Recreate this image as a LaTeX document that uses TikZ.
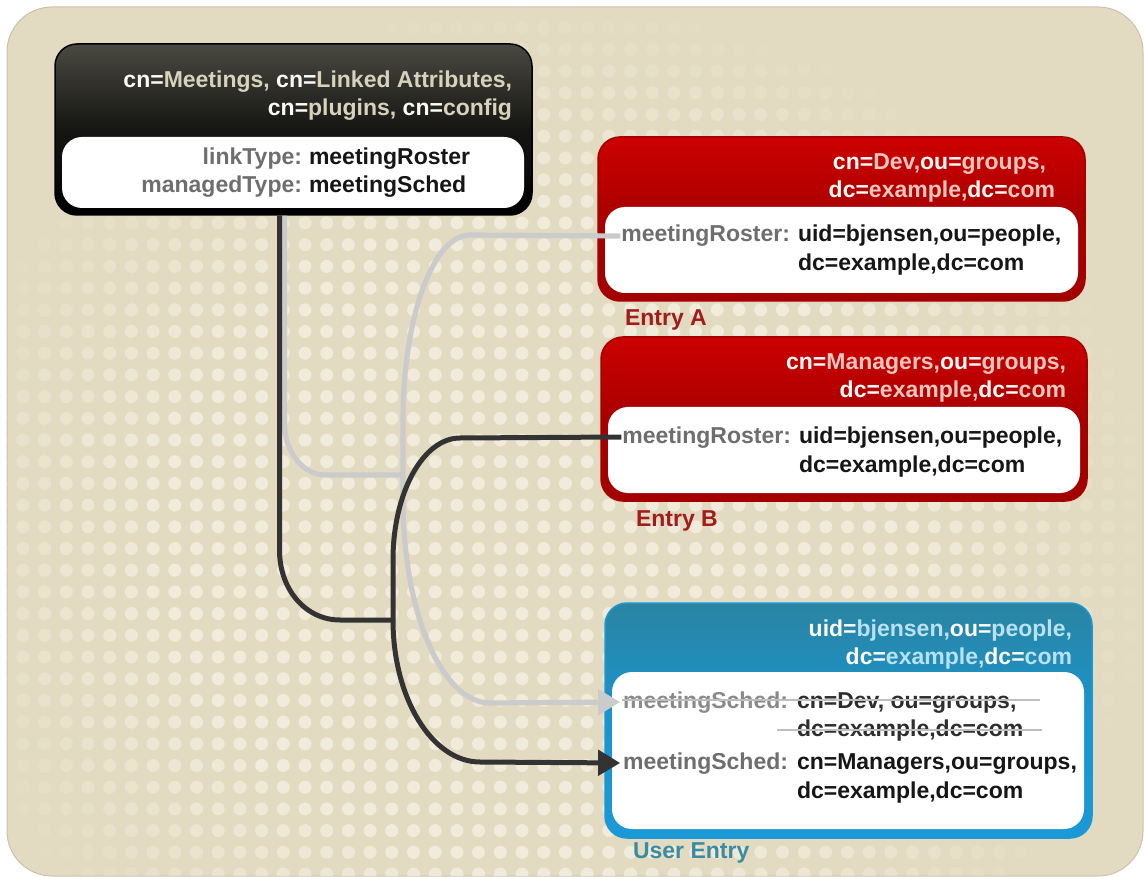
\documentclass[tikz,border=0pt]{standalone}
\usepackage{fontspec}
\setmainfont{Liberation Sans}
\usetikzlibrary{arrows.meta}
\definecolor{panelc}{HTML}{E3DBC1}
\definecolor{dotc}{HTML}{F0EBDA}
\definecolor{panelline}{HTML}{C9C2AC}
\definecolor{blktop}{HTML}{4A4941}
\definecolor{blkmid}{HTML}{151513}
\definecolor{redtop}{HTML}{CC0000}
\definecolor{redmid}{HTML}{A80000}
\definecolor{redbot}{HTML}{A30000}
\definecolor{bluetop}{HTML}{2A84A2}
\definecolor{bluemid}{HTML}{1A95CF}
\definecolor{bluebot}{HTML}{1B98D6}
\definecolor{keyw}{HTML}{FBFAF6}
\definecolor{valbeige}{HTML}{D8D2BC}
\definecolor{valpink}{HTML}{F5C6BE}
\definecolor{valblue}{HTML}{B8E2F2}
\definecolor{lblgray}{HTML}{6E6E6E}
\definecolor{oldgray}{HTML}{8A8A8A}
\definecolor{oldval}{HTML}{2E2E2E}
\definecolor{valblack}{HTML}{161616}
\definecolor{entryred}{HTML}{A31C1C}
\definecolor{entryblue}{HTML}{3A8CA3}
\definecolor{darkline}{HTML}{333333}
\definecolor{grayline}{HTML}{CBCBCB}
\definecolor{strikec}{HTML}{BEBEBE}
\newcommand\K[1]{\textcolor{keyw}{#1}}
\begin{document}
\begin{tikzpicture}[x=1pt,y=-1pt,
  txt/.style={inner sep=0pt, outer sep=0pt, text height=17pt, text depth=5pt,
              font=\fontsize{23}{28}\selectfont\bfseries},
  hdr/.style={txt, anchor=east},
  lbl/.style={txt, anchor=east, text=lblgray},
  val/.style={txt, anchor=west, text=valblack},
  ent/.style={txt, anchor=west},
  boxout/.style={rounded corners=22pt, inner sep=0pt, line width=1.5pt},
  boxin/.style={fill=white, rounded corners=20pt, inner sep=0pt},
  gline/.style={draw=grayline, line width=5.2pt},
  dline/.style={draw=darkline, line width=5pt},
  gtip/.style={-{Triangle[length=22pt,width=25pt]}, shorten >=3pt},
  strike/.style={draw=strikec, line width=2.8pt}
]
\useasboundingbox (0,0) rectangle (1144,877);
\fill[white] (0,0) rectangle (1144,877);
\fill[panelc, draw=panelline, line width=1pt, rounded corners=45pt] (7,7) rectangle (1143,876);

% dot pattern
\begin{scope}
\clip[rounded corners=45pt] (7,7) rectangle (1143,876);
\foreach \i in {0,...,52}{
  \foreach \j in {0,...,40}{
    \pgfmathsetmacro\px{1.2+21.7*\i}
    \pgfmathsetmacro\py{6+21.7*\j}
    \pgfmathsetmacro\dd{((\px-540)/620)^2+((\py-540)/540)^2}
    \pgfmathsetmacro\op{max(0,min(1,1.6*(1-\dd)))}
    \fill[dotc, opacity=\op] (\px,\py) circle[radius=6.5pt];
  }
}
\end{scope}

% config entry
\node[boxout, draw=black, minimum width=477pt, minimum height=171pt,
      top color=blktop, bottom color=black, middle color=blkmid] (meet) at (293.5,129.5) {};
\node[boxin, minimum width=462pt, minimum height=71pt] (meetIn) at (293,172.5) {};
\node[hdr, text=valbeige] (m1) at (512,82) {\K{cn=}Meetings, \K{cn=}Linked Attributes,};
\node[hdr, text=valbeige] (m2) at (512,110) {\K{cn=}plugins, \K{cn=}config};
\node[lbl] (lt) at (302,159) {linkType:};
\node[val] (ltv) at (309,159) {meetingRoster};
\node[lbl] (mt) at (302,187) {managedType:};
\node[val] (mtv) at (309,187) {meetingSched};

% Entry A
\node[boxout, draw=redbot, minimum width=487pt, minimum height=164pt,
      top color=redtop, bottom color=redbot, middle color=redmid] (entA) at (841.5,219) {};
\node[boxin, minimum width=473pt, minimum height=86pt] (entAIn) at (841.5,250) {};
\node[hdr, text=valpink] (a1) at (1046,164) {\K{cn=}Dev,\K{ou=}groups,};
\node[hdr, text=valpink] (a2) at (1055,192) {\K{dc=}example,\K{dc=}com};
\node[lbl] (rA) at (790,236) {meetingRoster:};
\node[val] (rAv) at (798,236) {uid=bjensen,ou=people,};
\node[val] (rAv2) at (798,265) {dc=example,dc=com};
\node[ent, text=entryred] (labA) at (625,320) {Entry A};

% Entry B
\node[boxout, draw=redbot, minimum width=486pt, minimum height=164pt,
      top color=redtop, bottom color=redbot, middle color=redmid] (entB) at (844,419) {};
\node[boxin, minimum width=472pt, minimum height=86pt] (entBIn) at (844,450) {};
\node[hdr, text=valpink] (b1) at (1066,364) {\K{cn=}Managers,\K{ou=}groups,};
\node[hdr, text=valpink] (b2) at (1066,392) {\K{dc=}example,\K{dc=}com};
\node[lbl] (rB) at (791,437) {meetingRoster:};
\node[val] (rBv) at (799,437) {uid=bjensen,ou=people,};
\node[val] (rBv2) at (799,466) {dc=example,dc=com};
\node[ent, text=entryred] (labB) at (636,520) {Entry B};

% User entry
\node[boxout, draw=bluebot, minimum width=487pt, minimum height=235pt,
      top color=bluetop, bottom color=bluebot, middle color=bluemid] (usr) at (848.5,720.5) {};
\node[boxin, minimum width=472pt, minimum height=157pt] (usrIn) at (848,750.5) {};
\node[hdr, text=valblue] (u1) at (1072,630) {\K{uid=}bjensen,\K{ou=}people,};
\node[hdr, text=valblue] (u2) at (1072,658) {\K{dc=}example,\K{dc=}com};
\node[lbl, text=oldgray] (sO) at (788,702) {meetingSched:};
\node[val, text=oldval] (sOv) at (797,702) {cn=Dev, ou=groups,};
\node[val, text=oldval] (sOv2) at (797,730) {dc=example,dc=com};
\draw[strike] ([xshift=-1pt,yshift=2pt]sO.west) -- (1040,700);
\draw[strike] (777,730) -- (1042,730);
\node[lbl] (sN) at (788,763) {meetingSched:};
\node[val] (sNv) at (797,763) {cn=Managers,ou=groups,};
\node[val] (sNv2) at (797,792) {dc=example,dc=com};
\node[ent, text=entryblue] (labU) at (633,852) {User Entry};

% connectors
\coordinate (jG) at (403,475);
\coordinate (jD) at (393,620);
\coordinate (gA) at (470,235);
\coordinate (gU) at (490,703);
\coordinate (dB) at (460,438);
\coordinate (dU) at (480,762);

\draw[gline] ([xshift=-9pt]meet.south) -- (284.5,423)
   .. controls (284.5,452) and (303,475) .. (325,475) -- (jG);
\draw[gline] (jG) -- (403,420) .. controls (403,318) and (433,235) .. (gA)
   -- ([xshift=-1pt]rA.west);
\draw[gline, gtip] (jG) -- (403,500)
   .. controls (403,612) and (442,703) .. (gU) -- (sO.west);

\draw[dline] ([xshift=-14pt]meet.south) -- (279.5,550)
   .. controls (279.5,590) and (306,620) .. (340,620) -- (jD);
\draw[dline] (jD) -- (393,560) .. controls (393,493) and (423,438) .. (dB)
   -- ([xshift=-1pt]rB.west);
\draw[dline, gtip] (jD) .. controls (393,698) and (432,762) .. (dU)
   -- (sN.west);
\end{tikzpicture}
\end{document}
